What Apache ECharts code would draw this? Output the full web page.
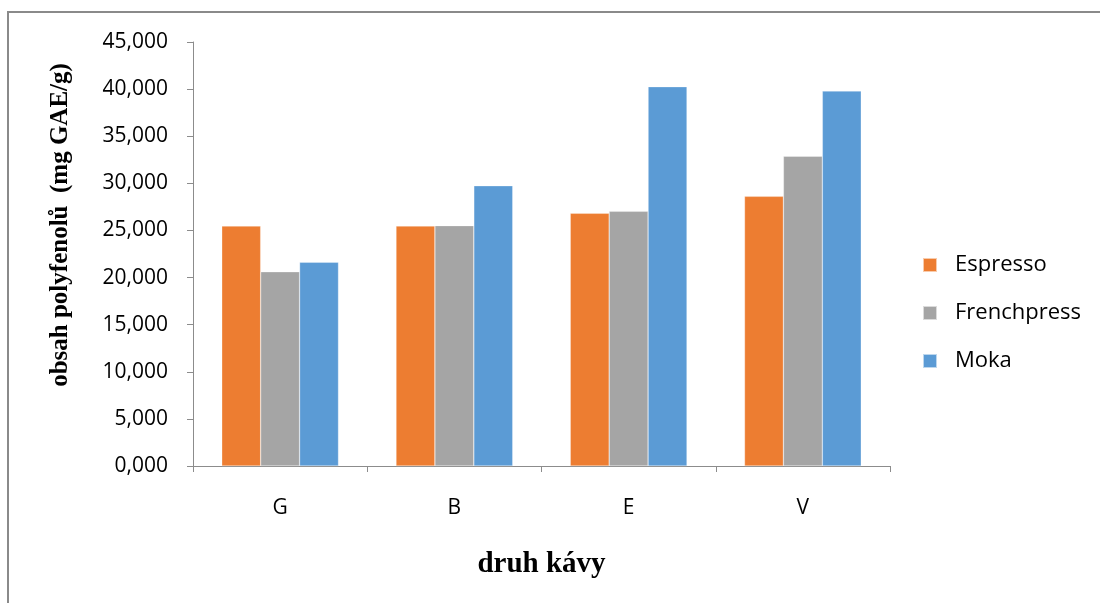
<!DOCTYPE html>
<html>
<head>
<meta charset="utf-8">
<script src="https://cdn.jsdelivr.net/npm/echarts@6/dist/echarts.min.js"></script>
<style>
html,body{margin:0;padding:0;background:#fff;}
#chart{width:1100px;height:603px;}
</style>
</head>
<body>
<div id="chart"></div>
<script>
const categories = ['G', 'B', 'E', 'V'];
const espresso = [25.47, 25.47, 26.82, 28.62];
const frenchpress = [20.62, 25.51, 27.03, 32.87];
const moka = [21.62, 29.75, 40.26, 39.80];
const seriesNames = ['Espresso', 'Frenchpress', 'Moka'];
const yTicks = { min: 0, max: 45, interval: 5 };
const xAxisTitle = 'druh kávy';
const yAxisTitle = 'obsah polyfenolů  (mg GAE/g)';

const colors = ['#ED7D31', '#A5A5A5', '#5B9BD5'];
const chart = echarts.init(document.getElementById('chart'));
const fmt = v => v.toFixed(3).replace('.', ',');
const seriesData = [espresso, frenchpress, moka];

chart.setOption({
  animation: false,
  backgroundColor: '#fff',
  grid: { left: 193, top: 42, right: 210, bottom: 137 },
  legend: {
    orient: 'vertical',
    left: 922,
    top: 254,
    padding: 0,
    itemWidth: 14,
    itemHeight: 14,
    itemGap: 26,
    icon: 'rect',
    data: seriesNames,
    textStyle: { fontFamily: 'Open Sans', fontSize: 22, color: '#000', padding: [0, 0, 0, 13] }
  },
  xAxis: {
    type: 'category',
    data: categories,
    axisLine: { lineStyle: { color: '#8c8c8c', width: 1 } },
    axisTick: { show: true, length: 6, alignWithLabel: false, lineStyle: { color: '#8c8c8c' } },
    axisLabel: { fontFamily: 'Open Sans', fontSize: 21, color: '#000', margin: 32 },
    name: xAxisTitle,
    nameLocation: 'middle',
    nameGap: 84,
    nameTextStyle: { fontFamily: 'Liberation Serif', fontWeight: 'bold', fontSize: 29, color: '#000' }
  },
  yAxis: {
    type: 'value',
    min: yTicks.min,
    max: yTicks.max,
    interval: yTicks.interval,
    splitLine: { show: false },
    axisLine: { show: true, lineStyle: { color: '#8c8c8c', width: 1 } },
    axisTick: { show: true, length: 6, lineStyle: { color: '#8c8c8c' } },
    axisLabel: { fontFamily: 'Open Sans', fontSize: 21, color: '#000', margin: 25, formatter: fmt }
  },
  graphic: [
    {
      type: 'rect',
      shape: { x: 8, y: 12, width: 1200, height: 700 },
      style: { fill: 'none', stroke: '#8a8a8a', lineWidth: 2 },
      silent: true
    },
    {
      type: 'text',
      x: 61,
      y: 225,
      rotation: Math.PI / 2,
      style: {
        text: yAxisTitle,
        fontFamily: 'Liberation Serif',
        fontWeight: 'bold',
        fontSize: 25,
        fill: '#000',
        align: 'center',
        verticalAlign: 'middle'
      }
    }
  ],
  series: seriesNames.map((n, i) => ({
    name: n,
    type: 'bar',
    data: seriesData[i],
    barGap: '0%',
    barCategoryGap: '33%',
    itemStyle: { color: colors[i], borderColor: 'rgba(255,255,255,0.6)', borderWidth: 0.5 }
  }))
});
</script>
</body>
</html>
